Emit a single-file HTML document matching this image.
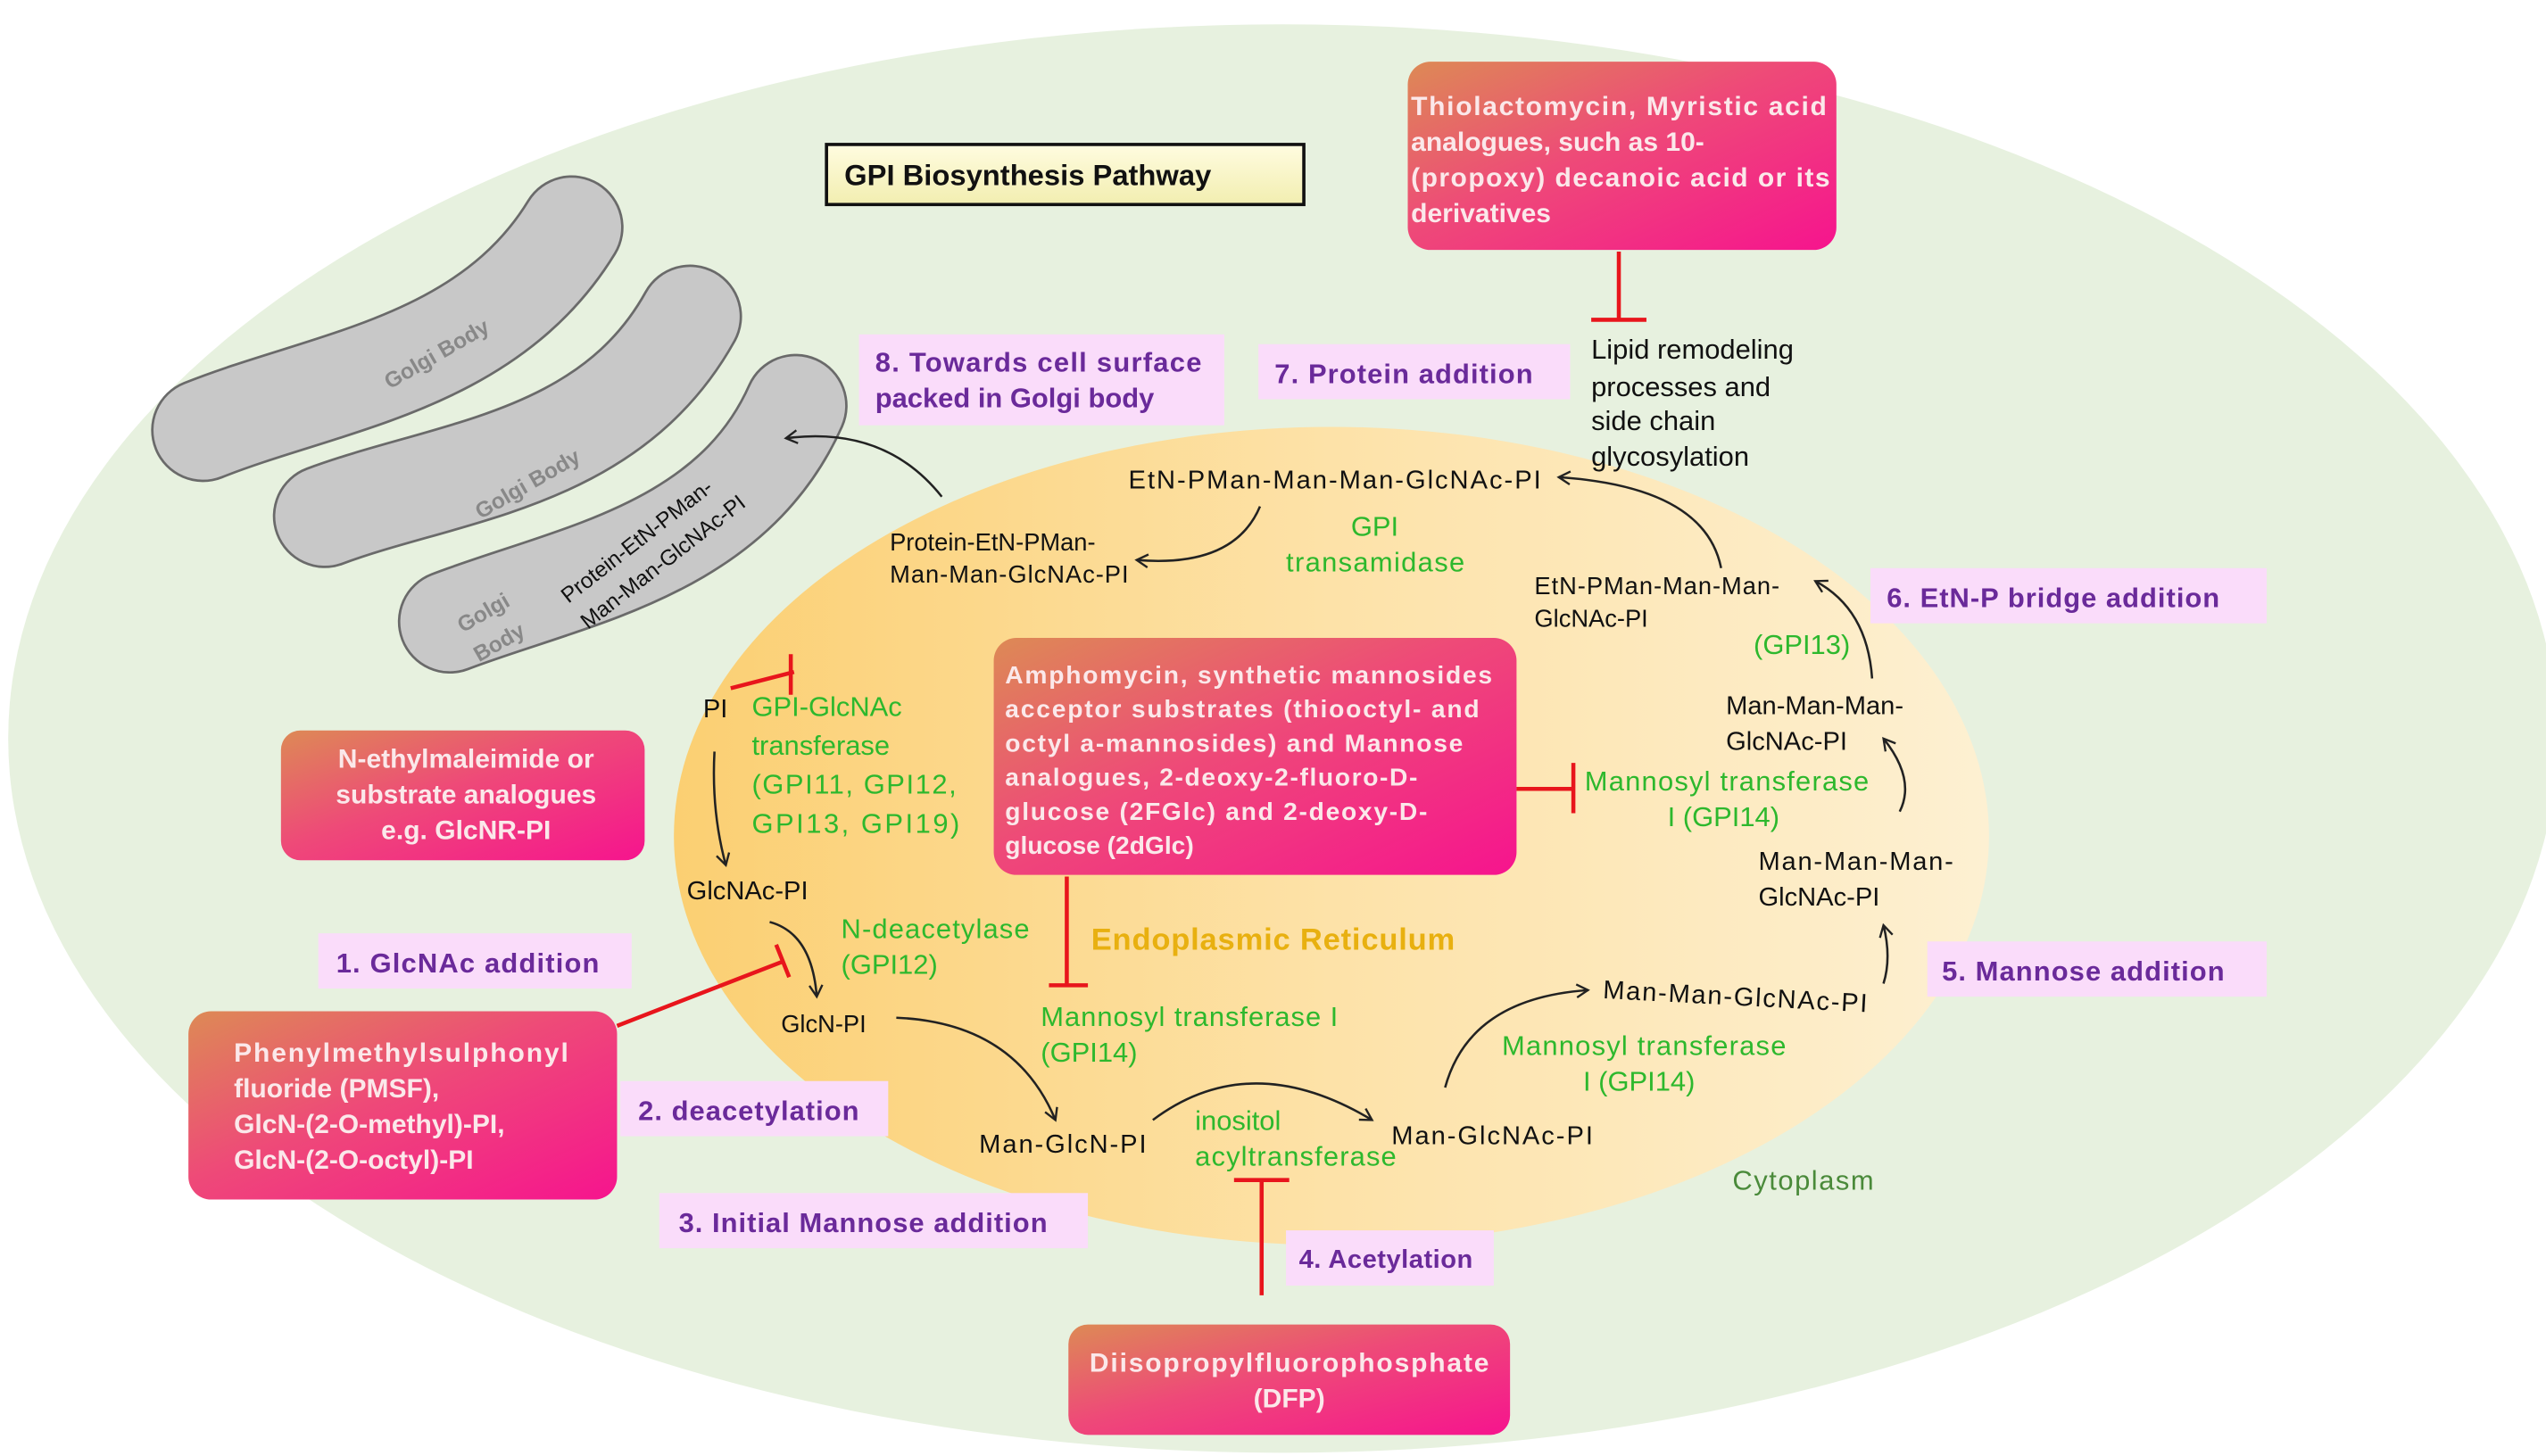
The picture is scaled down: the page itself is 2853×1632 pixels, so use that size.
<!DOCTYPE html>
<html><head><meta charset="utf-8"><style>
html,body{margin:0;padding:0;background:#fff;}
svg{display:block;}
text{font-family:"Liberation Sans",sans-serif;}
</style></head><body>
<svg width="2853" height="1632" viewBox="0 0 1568 897" xmlns="http://www.w3.org/2000/svg">
<defs>
<linearGradient id="er" x1="0" y1="0" x2="1" y2="0">
<stop offset="0" stop-color="#fbcf72"/><stop offset="0.5" stop-color="#fde2a8"/><stop offset="1" stop-color="#fdf0d2"/></linearGradient>
<linearGradient id="pk" x1="0" y1="0" x2="1" y2="1">
<stop offset="0" stop-color="#dd8a55"/><stop offset="0.45" stop-color="#ee4a78"/><stop offset="1" stop-color="#f6148e"/></linearGradient>
<linearGradient id="ttl" x1="0" y1="0" x2="0" y2="1">
<stop offset="0" stop-color="#fffce0"/><stop offset="1" stop-color="#f2eeb0"/></linearGradient>
<marker id="ar" markerWidth="10" markerHeight="10" refX="8" refY="5" orient="auto" markerUnits="userSpaceOnUse">
<path d="M1,1 L8,5 L1,9" fill="none" stroke="#222" stroke-width="1.3"/></marker>
</defs>
<rect width="1568" height="897" fill="#fff"/>
<ellipse cx="790" cy="455" rx="785" ry="440" fill="#e7f1df"/>
<ellipse cx="820" cy="515" rx="405" ry="252" fill="url(#er)"/>

<!-- Golgi -->
<g fill="none" stroke-linecap="round">
<path d="M125,265 C200,235 300,225 352,140" stroke="#6a6a6a" stroke-width="64"/>
<path d="M125,265 C200,235 300,225 352,140" stroke="#c8c8c8" stroke-width="61"/>
<path d="M200,318 C275,290 375,285 425,195" stroke="#6a6a6a" stroke-width="64"/>
<path d="M200,318 C275,290 375,285 425,195" stroke="#c8c8c8" stroke-width="61"/>
<path d="M277,383 C350,355 450,340 490,250" stroke="#6a6a6a" stroke-width="64"/>
<path d="M277,383 C350,355 450,340 490,250" stroke="#c8c8c8" stroke-width="61"/>
</g>
<g font-size="13.5" fill="#888" font-weight="bold">
<text transform="translate(240,240) rotate(-30)">Golgi Body</text>
<text transform="translate(296,320) rotate(-30)">Golgi Body</text>
<text transform="translate(285,390) rotate(-30)">Golgi</text>
<text transform="translate(295,408) rotate(-30)">Body</text>
</g>
<g font-size="13.5" fill="#111">
<text transform="translate(350,372) rotate(-38)">Protein-EtN-PMan-</text>
<text transform="translate(362,388) rotate(-38)">Man-Man-GlcNAc-PI</text>
</g>

<!-- Title -->
<rect x="509" y="89" width="294" height="37" fill="url(#ttl)" stroke="#111" stroke-width="2"/>
<text x="520" y="114" font-size="18" font-weight="bold" fill="#111">GPI Biosynthesis Pathway</text>

<!-- Pink boxes -->
<g fill="url(#pk)">
<rect x="867" y="38" width="264" height="116" rx="14"/>
<rect x="612" y="393" width="322" height="146" rx="14"/>
<rect x="173" y="450" width="224" height="80" rx="12"/>
<rect x="116" y="623" width="264" height="116" rx="14"/>
<rect x="658" y="816" width="272" height="68" rx="12"/>
</g>
<g fill="#fbe8ea" font-weight="bold" font-size="16.5">
<text x="869" y="71" textLength="256">Thiolactomycin, Myristic acid</text>
<text x="869" y="93">analogues, such as 10-</text>
<text x="869" y="115" textLength="258">(propoxy) decanoic acid or its</text>
<text x="869" y="137">derivatives</text>
</g>
<g fill="#fbe8ea" font-weight="bold" font-size="15.5">
<text x="619" y="421" textLength="300">Amphomycin, synthetic mannosides</text>
<text x="619" y="442" textLength="292">acceptor substrates (thiooctyl- and</text>
<text x="619" y="463" textLength="282">octyl a-mannosides) and Mannose</text>
<text x="619" y="484" textLength="254">analogues, 2-deoxy-2-fluoro-D-</text>
<text x="619" y="505" textLength="260">glucose (2FGlc) and 2-deoxy-D-</text>
<text x="619" y="526">glucose (2dGlc)</text>
</g>
<g fill="#fbe8ea" font-weight="bold" font-size="16.5" text-anchor="middle">
<text x="287" y="473">N-ethylmaleimide or</text>
<text x="287" y="495">substrate analogues</text>
<text x="287" y="517">e.g. GlcNR-PI</text>
<text x="794" y="845" textLength="246">Diisopropylfluorophosphate</text>
<text x="794" y="867">(DFP)</text>
</g>
<g fill="#fbe8ea" font-weight="bold" font-size="16.5">
<text x="144" y="654" textLength="206">Phenylmethylsulphonyl</text>
<text x="144" y="676">fluoride (PMSF),</text>
<text x="144" y="698">GlcN-(2-O-methyl)-PI,</text>
<text x="144" y="720">GlcN-(2-O-octyl)-PI</text>
</g>

<!-- Step labels -->
<g fill="#fadcfa">
<rect x="529" y="206" width="225" height="56"/>
<rect x="775" y="212" width="192" height="34"/>
<rect x="1152" y="350" width="244" height="34"/>
<rect x="196" y="575" width="193" height="34"/>
<rect x="1187" y="580" width="209" height="34"/>
<rect x="382" y="666" width="165" height="34"/>
<rect x="406" y="735" width="264" height="34"/>
<rect x="792" y="758" width="128" height="34"/>
</g>
<g fill="#6a2a9a" font-weight="bold" font-size="17">
<text x="539" y="229" textLength="201">8. Towards cell surface</text>
<text x="539" y="251">packed in Golgi body</text>
<text x="785" y="236" textLength="159">7. Protein addition</text>
<text x="1162" y="374" textLength="205">6. EtN-P bridge addition</text>
<text x="207" y="599" textLength="162">1. GlcNAc addition</text>
<text x="1196" y="604" textLength="174">5. Mannose addition</text>
<text x="393" y="690" textLength="136">2. deacetylation</text>
<text x="418" y="759" textLength="227">3. Initial Mannose addition</text>
<text x="800" y="781" font-size="16" textLength="107">4. Acetylation</text>
</g>

<!-- black texts -->
<g fill="#111" font-size="16">
<text x="695" y="301" textLength="254">EtN-PMan-Man-Man-GlcNAc-PI</text>
<text x="548" y="339" font-size="15">Protein-EtN-PMan-</text>
<text x="548" y="359" font-size="15" textLength="147">Man-Man-GlcNAc-PI</text>
<text x="980" y="221" font-size="17">Lipid remodeling</text>
<text x="980" y="244" font-size="17">processes and</text>
<text x="980" y="265" font-size="17">side chain</text>
<text x="980" y="287" font-size="17">glycosylation</text>
<text x="945" y="366" font-size="15" textLength="151">EtN-PMan-Man-Man-</text>
<text x="945" y="386" font-size="15">GlcNAc-PI</text>
<text x="1063" y="440">Man-Man-Man-</text>
<text x="1063" y="462">GlcNAc-PI</text>
<text x="1083" y="536" textLength="120">Man-Man-Man-</text>
<text x="1083" y="558">GlcNAc-PI</text>
<text x="987" y="615" transform="rotate(3 987 615)" textLength="163">Man-Man-GlcNAc-PI</text>
<text x="857" y="705" textLength="124">Man-GlcNAc-PI</text>
<text x="603" y="710" textLength="103">Man-GlcN-PI</text>
<text x="481" y="636" font-size="15">GlcN-PI</text>
<text x="423" y="554">GlcNAc-PI</text>
<text x="433" y="442">PI</text>
</g>

<!-- green enzyme texts -->
<g fill="#2db82d" font-size="17">
<text x="463" y="441">GPI-GlcNAc</text>
<text x="463" y="465">transferase</text>
<text x="463" y="489" textLength="126">(GPI11, GPI12,</text>
<text x="463" y="513" textLength="128">GPI13, GPI19)</text>
<text x="518" y="578" textLength="116">N-deacetylase</text>
<text x="518" y="600">(GPI12)</text>
<text x="641" y="632" textLength="183">Mannosyl transferase I</text>
<text x="641" y="654">(GPI14)</text>
<text x="736" y="696">inositol</text>
<text x="736" y="718" textLength="124">acyltransferase</text>
<text x="925" y="650" textLength="175">Mannosyl transferase</text>
<text x="975" y="672">I (GPI14)</text>
<text x="976" y="487" textLength="175">Mannosyl transferase</text>
<text x="1027" y="509">I (GPI14)</text>
<text x="1080" y="403">(GPI13)</text>
<text x="832" y="330">GPI</text>
<text x="792" y="352" textLength="110">transamidase</text>
</g>
<text x="672" y="585" font-size="19" font-weight="bold" fill="#e8b010" textLength="224">Endoplasmic Reticulum</text>
<text x="1067" y="733" font-size="17" fill="#4a8a3a" textLength="87">Cytoplasm</text>

<!-- arrows -->
<g fill="none" stroke="#222" stroke-width="1.4" marker-end="url(#ar)">
<path d="M580,306 Q545,262 484,270"/>
<path d="M776,312 Q760,350 700,345"/>
<path d="M1060,350 Q1050,300 960,294"/>
<path d="M1153,418 Q1150,375 1118,358"/>
<path d="M1170,500 Q1180,480 1160,455"/>
<path d="M1160,606 Q1165,590 1160,570"/>
<path d="M890,670 Q905,615 978,610"/>
<path d="M710,690 Q770,645 845,690"/>
<path d="M552,627 Q625,630 650,690"/>
<path d="M474,568 Q500,575 503,614"/>
<path d="M440,463 Q438,500 447,533"/>
</g>

<!-- inhibition lines -->
<g stroke="#e8151c" stroke-width="2.5" fill="none">
<path d="M997,155 V197 M980,197 H1014"/>
<path d="M450,424 L489,414 M487,403 V428"/>
<path d="M380,632 L483,592 M478,582 L486,602"/>
<path d="M934,486 H969 M969,470 V501"/>
<path d="M657,540 V607 M646,607 H670"/>
<path d="M777,798 V727 M760,727 H794"/>
</g>
</svg>
</body></html>
